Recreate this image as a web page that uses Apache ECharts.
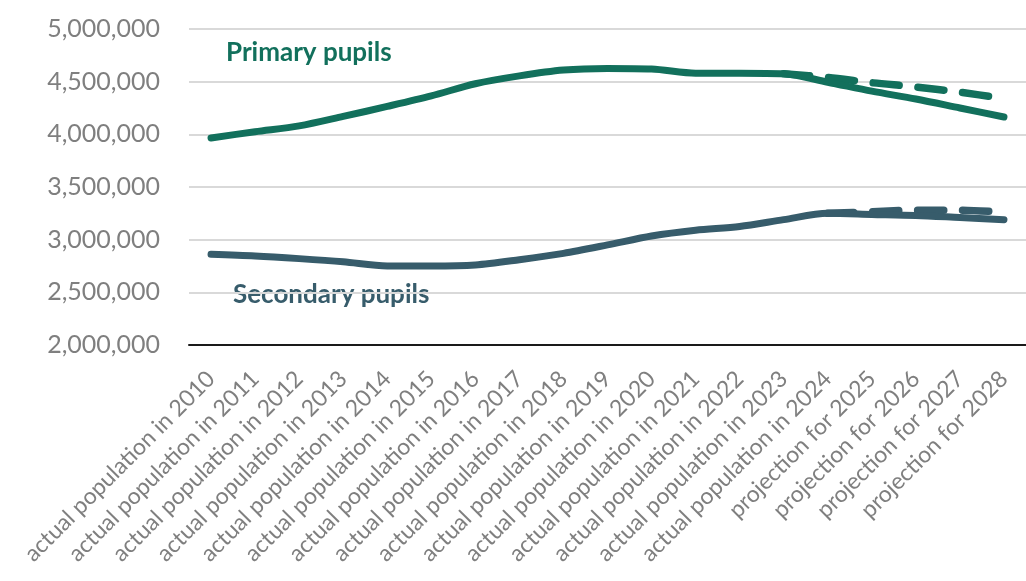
<!DOCTYPE html>
<html>
<head>
<meta charset="utf-8">
<title>Primary and secondary pupils</title>
<script src="https://cdn.jsdelivr.net/npm/echarts@6/dist/echarts.min.js"></script>
<style>
  html, body { margin: 0; padding: 0; background: #ffffff; }
  #chart { width: 1026px; height: 581px; }
</style>
</head>
<body>
<div id="chart"></div>
<script>
// Categories (x axis)
var categories = [
  "actual population in 2010", "actual population in 2011", "actual population in 2012",
  "actual population in 2013", "actual population in 2014", "actual population in 2015",
  "actual population in 2016", "actual population in 2017", "actual population in 2018",
  "actual population in 2019", "actual population in 2020", "actual population in 2021",
  "actual population in 2022", "actual population in 2023", "actual population in 2024",
  "projection for 2025", "projection for 2026", "projection for 2027", "projection for 2028"
];

// Pupil numbers
var primaryPupils = [3965000, 4025000, 4080000, 4170000, 4265000, 4365000, 4480000, 4555000, 4610000, 4625000,
  4620000, 4580000, 4580000, 4575000, 4495000, 4410000, 4335000, 4250000, 4165000];
var primaryEarlier = [null, null, null, null, null, null, null, null, null, null,
  null, null, null, 4575000, 4540000, 4490000, 4450000, 4400000, 4340000];
var secondaryPupils = [2861000, 2845000, 2820000, 2790000, 2750000, 2750000, 2760000, 2810000, 2870000, 2950000,
  3035000, 3090000, 3125000, 3190000, 3250000, 3240000, 3230000, 3210000, 3190000];
var secondaryEarlier = [null, null, null, null, null, null, null, null, null, null,
  null, null, null, null, 3250000, 3265000, 3280000, 3280000, 3260000];

// Y axis ticks
var yMin = 2000000;
var yMax = 5000000;
var yStep = 500000;

var GREEN = "#12705c";
var SLATE = "#375c6b";
var GREY = "#7f7f7f";
var FONT = "Lato, 'Noto Sans', sans-serif";

function fmt(v) {
  return String(v).replace(/\B(?=(\d{3})+(?!\d))/g, ",");
}

var chart = echarts.init(document.getElementById("chart"), null, { renderer: "canvas" });

var option = {
  animation: false,
  backgroundColor: "#ffffff",
  grid: { left: 189, top: 29, width: 847.5, height: 316, containLabel: false },
  xAxis: {
    type: "category",
    data: categories,
    boundaryGap: true,
    axisTick: { show: false },
    axisLine: { lineStyle: { color: "#1a1a1a", width: 2 } },
    axisLabel: {
      interval: 0,
      rotate: 45,
      margin: 30,
      color: GREY,
      fontSize: 23,
      fontFamily: FONT
    },
    splitLine: { show: false }
  },
  yAxis: {
    type: "value",
    min: yMin,
    max: yMax,
    interval: yStep,
    axisLine: { show: false },
    axisTick: { show: false },
    axisLabel: {
      margin: 29,
      color: GREY,
      fontSize: 25,
      fontFamily: FONT,
      formatter: fmt
    },
    splitLine: { lineStyle: { color: "#d9d9d9", width: 2 } }
  },
  series: [
    {
      name: "Primary (earlier projection)",
      type: "line",
      data: primaryEarlier,
      smooth: 0.3,
      showSymbol: false,
      lineStyle: { color: GREEN, width: 7.5, type: [26, 19], cap: "round", join: "round" }
    },
    {
      name: "Secondary (earlier projection)",
      type: "line",
      data: secondaryEarlier,
      smooth: 0.3,
      showSymbol: false,
      lineStyle: { color: SLATE, width: 7.5, type: [26, 19], cap: "round", join: "round" }
    },
    {
      name: "Primary pupils",
      type: "line",
      data: primaryPupils,
      smooth: 0.3,
      showSymbol: false,
      lineStyle: { color: GREEN, width: 7, cap: "round", join: "round" }
    },
    {
      name: "Secondary pupils",
      type: "line",
      data: secondaryPupils,
      smooth: 0.3,
      showSymbol: false,
      lineStyle: { color: SLATE, width: 7, cap: "round", join: "round" }
    }
  ],
  // series names written on the plot instead of a legend
  graphic: [
    {
      type: "text",
      x: 226, y: 53,
      style: { text: "Primary pupils", fill: GREEN, font: "bold 26px " + FONT, align: "left", verticalAlign: "middle" }
    },
    {
      type: "text",
      x: 233, y: 295,
      style: { text: "Secondary pupils", fill: SLATE, font: "bold 26px " + FONT, align: "left", verticalAlign: "middle" }
    }
  ]
};

chart.setOption(option);
</script>
</body>
</html>
